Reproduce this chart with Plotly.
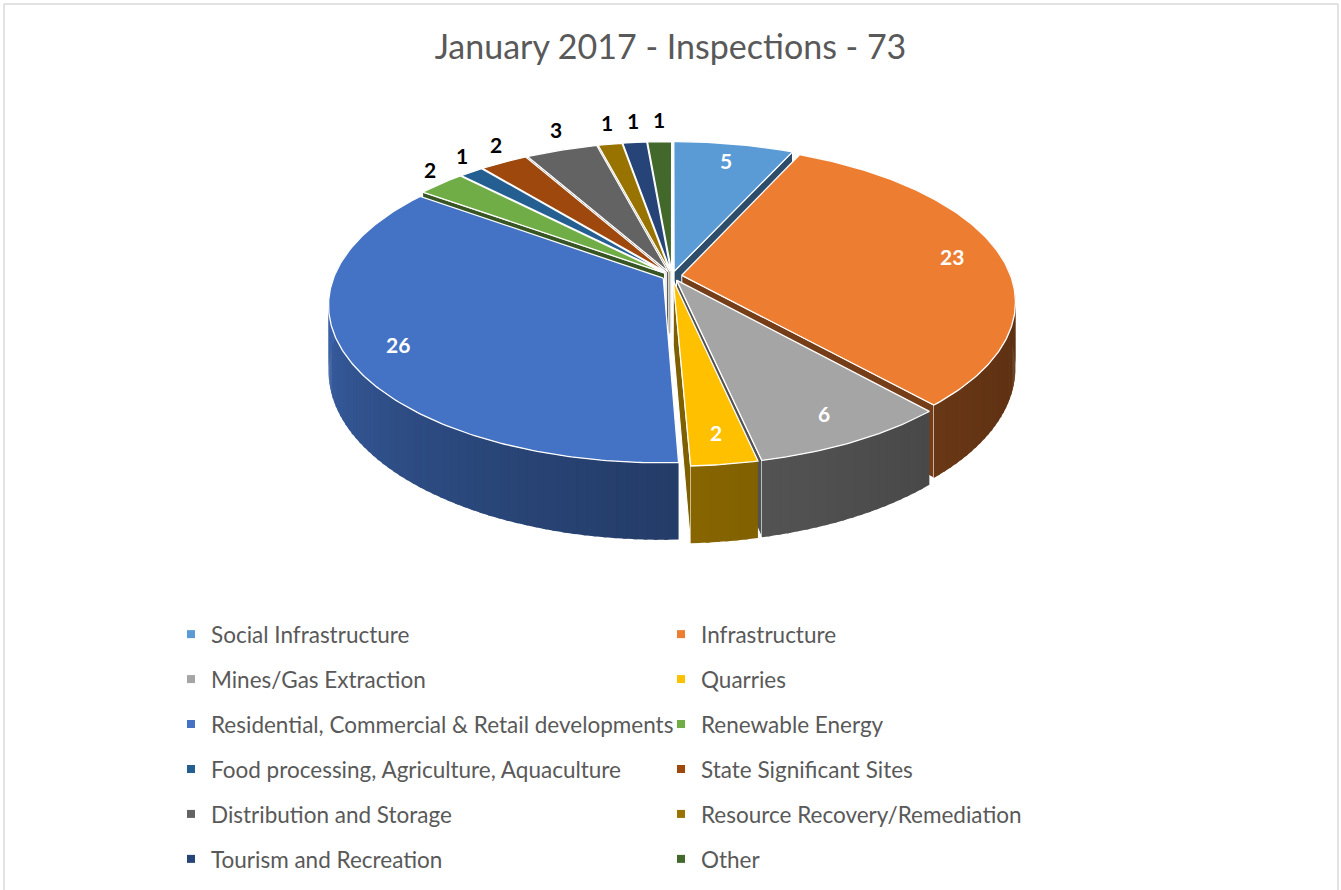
import numpy as np
import plotly.graph_objects as go

# ---------------- data ----------------
categories = [
    "Social Infrastructure", "Infrastructure", "Mines/Gas Extraction", "Quarries",
    "Residential, Commercial & Retail developments", "Renewable Energy",
    "Food processing, Agriculture, Aquaculture", "State Significant Sites",
    "Distribution and Storage", "Resource Recovery/Remediation",
    "Tourism and Recreation", "Other",
]
values = [5, 23, 6, 2, 26, 2, 1, 2, 3, 1, 1, 1]
colors = ["#5B9BD5", "#ED7D31", "#A5A5A5", "#FFC000", "#4472C4", "#70AD47",
          "#255E91", "#9E480E", "#636363", "#997300", "#264478", "#43682B"]
title_text = "January 2017 - Inspections - 73"

# ---------------- geometry / style ----------------
W, H = 1341, 890
CX, CY = 672, 276          # centre of the pie top (pixels)
A, B = 329, 153            # horizontal / vertical radius
D = 6.0                    # perspective distance
DEPTH = 64                 # thickness of the pie
EXPL = 0.03                # explosion distance
FONT = "Lato"
GREY = "#595959"


def proj(u, v, drop=0.0):
    s = D / (D - v)
    return CX + A * u * s, CY + B * v * s + drop * s


def shade(hexcol, f):
    h = hexcol.lstrip("#")
    r, g, b = (int(h[i:i + 2], 16) for i in (0, 2, 4))
    return "rgb(%d,%d,%d)" % (r * f, g * f, b * f)


def side_factor(phi):
    t = min(max((phi - 90.0) / 180.0, 0.0), 1.0)
    return 0.38 + 0.15 * t + 0.34 * t * t


def rim(phi, ou, ov, r=1.0):
    a = np.radians(phi)
    return ou + r * np.sin(a), ov - r * np.cos(a)


total = sum(values)
fig = go.Figure()

slices = []
cum = 0
for i, val in enumerate(values):
    a0 = cum / total * 360.0
    a1 = (cum + val) / total * 360.0
    cum += val
    mid = (a0 + a1) / 2
    ou = EXPL * np.sin(np.radians(mid))
    ov = -EXPL * np.cos(np.radians(mid))
    slices.append(dict(i=i, a0=a0, a1=a1, mid=mid, ou=ou, ov=ov))

order = sorted(slices, key=lambda s: -np.cos(np.radians(s["mid"])))


def poly(xs, ys, fill, line_col="white", lw=1.2):
    fig.add_trace(go.Scatter(
        x=list(xs) + [xs[0]], y=list(ys) + [ys[0]], mode="lines", fill="toself",
        fillcolor=fill, line=dict(color=line_col, width=lw),
        hoverinfo="skip", showlegend=False))


for s in order:
    i, a0, a1, ou, ov = s["i"], s["a0"], s["a1"], s["ou"], s["ov"]
    col = colors[i]
    # radial walls
    for phi, psi in ((a0, a0 - 90), (a1, a1 + 90)):
        if -np.cos(np.radians(psi)) > 0:
            ru, rv = rim(phi, ou, ov)
            p1 = proj(ou, ov)
            p2 = proj(ru, rv)
            p3 = proj(ru, rv, DEPTH)
            p4 = proj(ou, ov, DEPTH)
            poly([p1[0], p2[0], p3[0], p4[0]], [p1[1], p2[1], p3[1], p4[1]],
                 shade(col, 0.5), "white", 1.0)
    # outer side, shaded segments (slightly overlapping to hide seams)
    lo, hi = max(a0, 76.0), min(a1, 284.0)
    if hi > lo:
        n = max(1, int(np.ceil((hi - lo) / 1.5)))
        edges = np.linspace(lo, hi, n + 1)
        for k in range(n):
            p0 = edges[k]
            p1_ = min(edges[k + 1] + 0.6, hi)
            arc = np.linspace(p0, p1_, 4)
            top = [proj(*rim(p, ou, ov)) for p in arc]
            bot = [proj(*rim(p, ou, ov), DEPTH) for p in arc[::-1]]
            pts = top + bot
            c = shade(col, side_factor((edges[k] + edges[k + 1]) / 2))
            poly([p[0] for p in pts], [p[1] for p in pts], c, "rgba(0,0,0,0)", 0)
    # top face
    arc = np.linspace(a0, a1, max(3, int((a1 - a0) / 0.75) + 2))
    pts = [proj(ou, ov)] + [proj(*rim(p, ou, ov)) for p in arc]
    poly([p[0] for p in pts], [p[1] for p in pts], col, "white", 1.3)

# data labels
annotations = []
for s in slices:
    i = s["i"]
    mv = -np.cos(np.radians(s["mid"]))
    inside = values[i] >= 5 or mv > 0.5
    if inside:
        x, y = proj(*rim(s["mid"], s["ou"], s["ov"], 0.85))
        fcol = "white"
    else:
        u, v = rim(s["mid"], s["ou"], s["ov"], 1.0)
        x, y = proj(u, v)
        su, sv = np.sin(np.radians(s["mid"])), -np.cos(np.radians(s["mid"]))
        x += su * 14
        y += sv * 22
        fcol = "black"
    annotations.append(dict(x=x, y=y, xref="x", yref="y", text="<b>%d</b>" % values[i],
                            showarrow=False, font=dict(family=FONT, size=21, color=fcol),
                            xanchor="center", yanchor="middle"))

# legend entries (two columns)
for i, name in enumerate(categories):
    fig.add_trace(go.Scatter(
        x=[None], y=[None], mode="markers", name=name,
        marker=dict(symbol="square", size=8, color=colors[i]),
        legend="legend" if i % 2 == 0 else "legend2",
        legendgroup=name, hoverinfo="skip"))

legend_common = dict(
    orientation="v", xanchor="left", yanchor="top", bgcolor="rgba(0,0,0,0)",
    font=dict(family=FONT, size=22.5, color=GREY), tracegroupgap=12.7, itemwidth=30,
    traceorder="grouped")

border = "#D9D9D9"
shapes = [
    dict(type="line", xref="x", yref="y", x0=4, y0=4, x1=1338, y1=4, line=dict(color=border, width=1.5)),
    dict(type="line", xref="x", yref="y", x0=4, y0=4, x1=4, y1=H, line=dict(color=border, width=1.5)),
    dict(type="line", xref="x", yref="y", x0=1338, y0=4, x1=1338, y1=H, line=dict(color=border, width=1.5)),
]

fig.update_layout(
    width=W, height=H, margin=dict(l=0, r=0, t=0, b=0),
    paper_bgcolor="white", plot_bgcolor="white",
    xaxis=dict(range=[0, W], visible=False, fixedrange=True),
    yaxis=dict(range=[H, 0], visible=False, fixedrange=True),
    title=dict(text=title_text, x=0.5, xanchor="center", y=1 - 47 / H, yanchor="middle",
               font=dict(family=FONT, size=34, color=GREY)),
    legend=dict(x=171 / W, y=1 - 613 / H, **legend_common),
    legend2=dict(x=661 / W, y=1 - 613 / H, **legend_common),
    annotations=annotations, shapes=shapes, showlegend=True,
)

fig.write_html("out.html", config={"displayModeBar": False},
               post_script="document.body.style.margin='0px';")
